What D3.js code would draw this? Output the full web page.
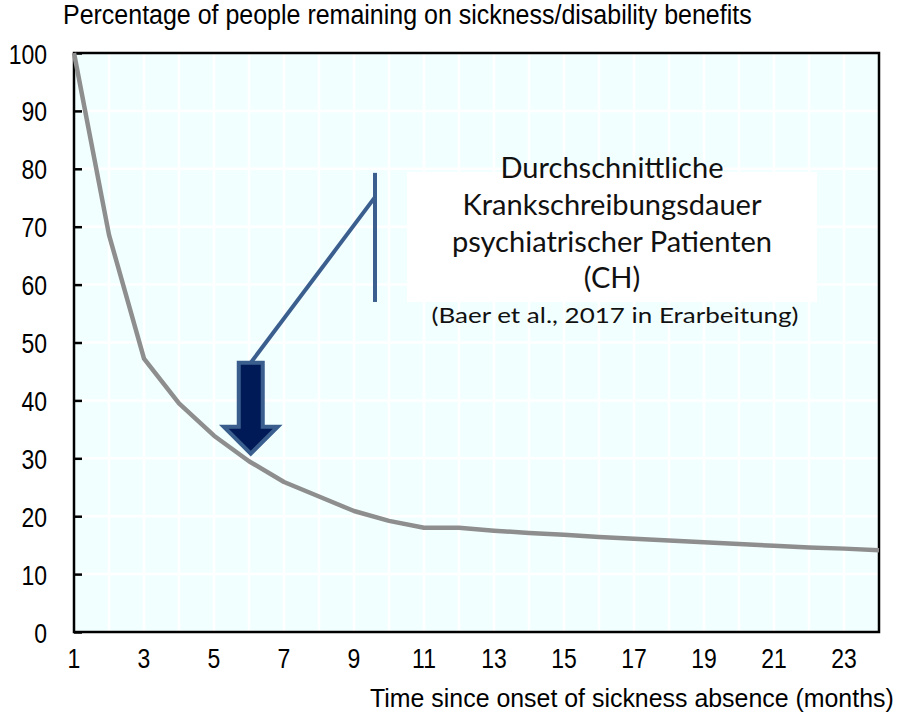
<!DOCTYPE html>
<meta charset="utf-8">
<script src="https://cdn.jsdelivr.net/npm/d3@7"></script>
<style>
 body { margin: 0; background: #fff; }
 .arial { font-family: "Liberation Sans", Arial, sans-serif; }
 .calibri { font-family: Lato, "Open Sans", sans-serif; }
</style>
<div id="container"></div>
<script>
 // data
 var months = [1,2,3,4,5,6,7,8,9,10,11,12,13,14,15,16,17,18,19,20,21,22,23,24];
 var remaining = [100,68.6,47.2,39.5,33.9,29.5,25.9,23.4,20.9,19.2,18,18,17.5,17.1,16.8,16.4,16.1,15.8,15.5,15.2,14.9,14.6,14.4,14.1];
 var xTicks = [1,3,5,7,9,11,13,15,17,19,21,23];
 var yTicks = [0,10,20,30,40,50,60,70,80,90,100];
 var noteLines = ["Durchschnittliche", "Krankschreibungsdauer", "psychiatrischer Patienten", "(CH)"];
 var noteSource = "(Baer et al., 2017 in Erarbeitung)";
 // annotation anchor (in data units)
 var bracket = {x: 9.6, y0: 79.3, y1: 57, yj: 75.1};
 var arrow = {x: 6.05, top: 46.5, tip: 30.8};

 var width = 905, height = 721;
 var margin = {top: 53, right: 26, bottom: 89, left: 74};
 var narrow = 0.82;   // Arial Narrow look

 function condense(sel, k) {
     sel.each(function () {
         this.setAttribute("textLength", this.getComputedTextLength() * k);
         this.setAttribute("lengthAdjust", "spacingAndGlyphs");
     });
 }

 // squeeze a text horizontally to a given width with a transform
 function squeeze(t, x0, y0, w) {
     var k = w / t.node().getComputedTextLength();
     t.attr("transform", `translate(${x0},${y0}) scale(${k},1)`);
 }

 var svg = d3.select("#container").append("svg")
             .attr("width", width)
             .attr("height", height);

 var x = d3.scaleLinear().domain([1, 24]).range([margin.left, width - margin.right]);
 var y = d3.scaleLinear().domain([0, 100]).range([height - margin.bottom, margin.top]);

 // plot background
 svg.append("rect")
    .attr("x", x(1)).attr("y", y(100))
    .attr("width", x(24) - x(1)).attr("height", y(0) - y(100))
    .attr("fill", "#f2ffff");

 // white grid
 var grid = svg.append("g").attr("stroke", "#fff").attr("stroke-width", 2.5);
 grid.selectAll("line.v").data(months.slice(1, -1)).enter().append("line")
     .attr("x1", d => x(d)).attr("x2", d => x(d))
     .attr("y1", y(100)).attr("y2", y(0));
 grid.selectAll("line.h").data(yTicks.slice(1, -1)).enter().append("line")
     .attr("x1", x(1)).attr("x2", x(24))
     .attr("y1", d => y(d)).attr("y2", d => y(d));

 // frame
 svg.append("rect")
    .attr("x", x(1)).attr("y", y(100))
    .attr("width", x(24) - x(1)).attr("height", y(0) - y(100))
    .attr("fill", "none").attr("stroke", "#000").attr("stroke-width", 2.5);

 // y axis, ticks pointing inward
 var yAxis = svg.append("g")
                .attr("transform", `translate(${x(1)},0)`)
                .call(d3.axisRight(y).tickValues(yTicks).tickSize(8).tickFormat(""));
 yAxis.select(".domain").remove();
 yAxis.selectAll("line").attr("stroke", "#000").attr("stroke-width", 2.5);

 var yLab = svg.append("g").attr("class", "arial").selectAll("text").data(yTicks).enter().append("text")
    .attr("x", 47).attr("y", d => y(d) + 10.5)
    .attr("text-anchor", "end")
    .attr("font-size", 28)
    .text(d => d);
 condense(yLab, narrow);

 var xLab = svg.append("g").attr("class", "arial").selectAll("text").data(xTicks).enter().append("text")
    .attr("x", d => x(d)).attr("y", y(0) + 36)
    .attr("text-anchor", "middle")
    .attr("font-size", 28)
    .text(d => d);
 condense(xLab, narrow);

 // axis titles
 var yTitle = svg.append("text")
    .attr("class", "arial")
    .attr("font-size", 27)
    .text("Percentage of people remaining on sickness/disability benefits");
 squeeze(yTitle, 63, 24, 689);

 var xTitle = svg.append("text")
    .attr("class", "arial")
    .attr("font-size", 26)
    .text("Time since onset of sickness absence (months)");
 squeeze(xTitle, 370, 707, 524);

 // the curve
 var line = d3.line().x(d => x(d[0])).y(d => y(d[1]));
 svg.append("path")
    .datum(d3.zip(months, remaining))
    .attr("d", line)
    .attr("fill", "none")
    .attr("stroke", "#8e8e8e")
    .attr("stroke-width", 4.5)
    .attr("stroke-linejoin", "round");

 // note box
 svg.append("rect")
    .attr("x", 407).attr("y", 172)
    .attr("width", 410).attr("height", 130)
    .attr("fill", "#fff");

 var note = svg.append("g").attr("class", "calibri").attr("text-anchor", "middle").attr("fill", "#111");
 var noteText = note.selectAll("text.l").data(noteLines).enter().append("text")
     .attr("x", 612).attr("y", (d, i) => 178 + i * 36.8)
     .attr("font-size", 29)
     .text(d => d);
 var src = note.append("text")
     .attr("x", 615).attr("y", 323)
     .attr("font-size", 21)
     .text(noteSource);
 // Calibri is narrower than Lato
 var k = 223 / noteText.node().getComputedTextLength();
 condense(noteText, k);
 condense(src, 367 / src.node().getComputedTextLength());

 // bracket and leader line
 var blue = "#3a5f8f";
 svg.append("line")
    .attr("x1", x(bracket.x)).attr("x2", x(bracket.x))
    .attr("y1", y(bracket.y0)).attr("y2", y(bracket.y1))
    .attr("stroke", blue).attr("stroke-width", 4);
 svg.append("line")
    .attr("x1", x(bracket.x)).attr("y1", y(bracket.yj))
    .attr("x2", x(arrow.x)).attr("y2", y(arrow.top))
    .attr("stroke", blue).attr("stroke-width", 4);

 // block arrow
 var ax = x(arrow.x), at = y(arrow.top), tip = y(arrow.tip);
 var sw = 12, hw = 27, hh = 27;
 var pts = [[ax - sw, at], [ax + sw, at], [ax + sw, tip - hh], [ax + hw, tip - hh],
            [ax, tip], [ax - hw, tip - hh], [ax - sw, tip - hh]];
 svg.append("path")
    .attr("d", d3.line()(pts) + "Z")
    .attr("fill", "#001a57")
    .attr("stroke", blue)
    .attr("stroke-width", 4)
    .attr("stroke-linejoin", "miter");
</script>
